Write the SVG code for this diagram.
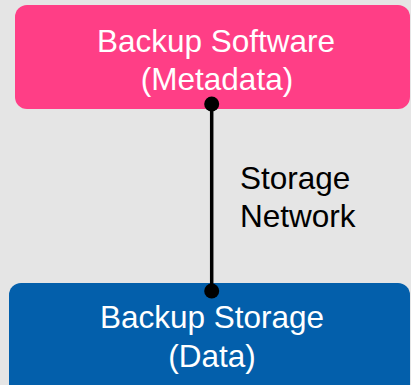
<svg xmlns="http://www.w3.org/2000/svg" width="411" height="385" viewBox="0 0 411 385">
<style>
.t{font-family:"Liberation Sans",Arial,sans-serif;font-size:31.5px;text-anchor:middle;fill:#fff}
.l{font-family:"Liberation Sans",Arial,sans-serif;font-size:31.5px;fill:#000}
</style>
<rect width="411" height="385" fill="#e5e5e5"/>
<g id="software">
<rect x="15" y="5" width="395" height="104" rx="12" fill="#ff3e86"/>
<text class="t" x="216" y="52">Backup Software</text>
<text class="t" x="217" y="90">(Metadata)</text>
</g>
<g id="storage">
<rect x="9" y="283" width="401" height="120" rx="12" fill="#035fab"/>
<text class="t" x="212" y="328">Backup Storage</text>
<text class="t" x="212" y="367">(Data)</text>
</g>
<g id="connectors">
<line x1="211.7" y1="104" x2="211.7" y2="291" stroke="#000" stroke-width="3.5"/>
<circle cx="211.7" cy="104" r="7.5" fill="#000"/>
<circle cx="211.7" cy="291" r="7.5" fill="#000"/>
<text class="l" x="240" y="189">Storage</text>
<text class="l" x="240" y="227">Network</text>
</g>
</svg>
